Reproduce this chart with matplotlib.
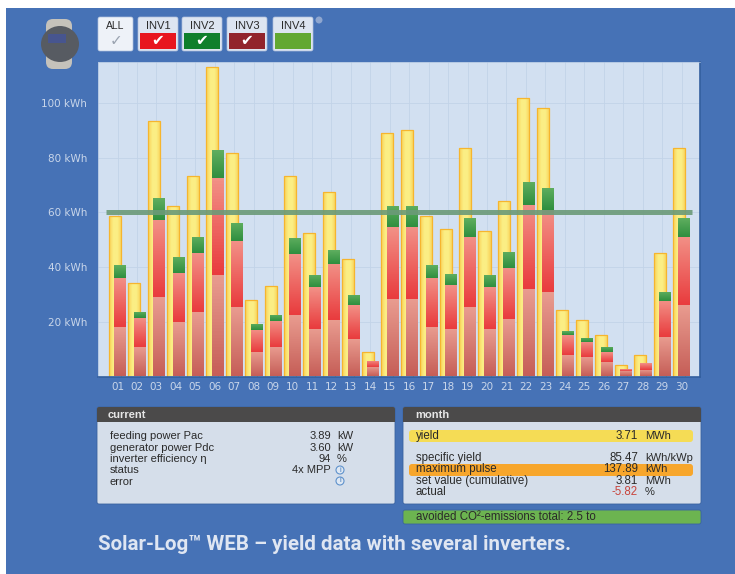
import numpy as np
import matplotlib
matplotlib.use("Agg")
import matplotlib.pyplot as plt
from matplotlib.patches import Rectangle, FancyBboxPatch, Ellipse, Circle
from matplotlib.colors import LinearSegmentedColormap

plt.rcParams['font.family'] = ['Liberation Sans', 'DejaVu Sans']

days = ["%02d" % d for d in range(1, 31)]
total_yield = [58.6, 34.2, 93.3, 62.3, 73.2, 113.1, 81.6, 27.9, 33.1, 73.2,
               52.4, 67.4, 42.9, 8.9, 88.9, 90.0, 58.6, 53.9, 83.5, 53.1,
               64.1, 101.7, 98.1, 24.3, 20.6, 15.2, 4.2, 7.9, 45.1, 83.5]
inv1_top = [18.1, 10.8, 29.0, 19.9, 23.6, 37.1, 25.4, 8.9, 10.8, 22.5,
            17.4, 20.6, 13.7, 3.5, 28.3, 28.3, 18.1, 17.4, 25.4, 17.4,
            21.0, 32.0, 30.9, 7.9, 7.1, 5.3, 2.0, 2.4, 14.4, 26.1]
inv2_top = [36.0, 21.4, 57.2, 37.8, 45.1, 72.5, 49.5, 17.0, 20.3, 44.7,
            32.7, 41.1, 26.1, 5.7, 54.6, 54.6, 36.0, 33.4, 51.0, 32.7,
            39.6, 62.6, 60.8, 15.2, 12.6, 8.9, 2.7, 4.9, 27.6, 51.0]
inv3_top = [40.7, 23.6, 65.2, 43.7, 51.0, 82.7, 56.1, 19.2, 22.5, 50.6,
            37.1, 46.2, 29.8, 5.7, 62.3, 62.3, 40.7, 37.4, 57.9, 37.1,
            45.5, 71.1, 68.9, 16.6, 14.1, 10.8, 2.7, 4.9, 30.9, 57.9]
target = 60
y_ticks = [20, 40, 60, 80, 100]
y_labels = ["20 kWh", "40 kWh", "60 kWh", "80 kWh", "100 kWh"]

current_rows = [("feeding power Pac", "3.89", "kW"),
                ("generator power Pdc", "3.60", "kW"),
                ("inverter efficiency η", "94", "%"),
                ("status", "4x MPP", ""),
                ("error", "", "")]
month_rows = [("yield", "3.71", "MWh", 436),
              ("specific yield", "85.47", "kWh/kWp", 458),
              ("maximum pulse", "137.89", "kWh", 469),
              ("set value (cumulative)", "3.81", "MWh", 481),
              ("actual", "-5.82", "%", 492)]
buttons = [("INV1", 138, "#e8161f"), ("INV2", 182, "#0f7f2c"),
           ("INV3", 227, "#92242c"), ("INV4", 273, "#62a832")]

W, H = 735, 574
BLUE = "#4672b6"
TXT = "#2a2a2a"
fig = plt.figure(figsize=(W / 100, H / 100), dpi=100, facecolor="white")

# pixel coordinate layer for everything around the chart
bg = fig.add_axes([0, 0, 1, 1])
bg.set_xlim(0, W)
bg.set_ylim(H, 0)
bg.axis("off")
bg.add_patch(Rectangle((6, 8), W - 6, H - 8, fc=BLUE, ec="none"))


def rbox(x0, y0, x1, y1, fc, r=2, ec="none", z=2, lw=0.8):
    bg.add_patch(FancyBboxPatch((x0 + r, y0 + r), x1 - x0 - 2 * r, y1 - y0 - 2 * r,
                                boxstyle="round,pad=%g,rounding_size=%g" % (r, r),
                                fc=fc, ec=ec, lw=lw, zorder=z))


# logger device
bg.add_patch(FancyBboxPatch((48, 21), 22, 46, boxstyle="round,pad=2,rounding_size=7",
                            fc="#c5c2bb", ec="none", zorder=2))
bg.add_patch(Ellipse((60, 44), 38, 36, fc="#575b62", ec="none", zorder=3))
bg.add_patch(Rectangle((48, 34), 18, 9, fc="#47558f", ec="none", zorder=4))

# inverter buttons
rbox(98, 17, 133, 51, "#eef2f8", ec="#aebfdc", lw=0.5)
bg.text(115.5, 26, "ALL", ha="center", va="center", fontsize=7.5, color=TXT, zorder=4)
bg.text(116, 41, "✓", ha="center", va="center", fontsize=11, color="#9aa3b0", zorder=4,
        family="DejaVu Sans")
for name, x0, col in buttons:
    rbox(x0, 17, x0 + 40, 51, "#dde5f1", ec="#aebfdc", lw=0.5)
    bg.add_patch(Rectangle((x0 + 2, 33), 36, 16, fc=col, ec="none", zorder=3))
    bg.text(x0 + 20, 26, name, ha="center", va="center", fontsize=8, color=TXT, zorder=4)
    if name != "INV4":
        bg.text(x0 + 20, 41, "✔", ha="center", va="center", fontsize=11, color="white",
                zorder=4, family="DejaVu Sans")
bg.add_patch(Circle((319, 20), 3.5, fc="#8ea6cf", ec="none", zorder=3))

# bottom panels
for x0, x1 in [(97, 395), (403, 701)]:
    rbox(x0, 407, x1, 504, "#d5deea", ec="#3a62a0", lw=0.6)
    rbox(x0, 407, x1, 422, "#4b4a4a")
    bg.add_patch(Rectangle((x0, 416), x1 - x0, 6, fc="#4b4a4a", ec="none", zorder=2))
bg.text(108, 415, "current", va="center", fontsize=8, weight="bold", color="#e6e6e6", zorder=4)
bg.text(415, 415, "month", va="center", fontsize=8, weight="bold", color="#e6e6e6", zorder=4)

for (label, val, unit), yp in zip(current_rows, [436, 448, 459, 470, 482]):
    bg.text(110, yp, label, va="center", fontsize=8, color=TXT, zorder=4)
    bg.text(331, yp, val, va="center", ha="right", fontsize=8, color=TXT, zorder=4)
    bg.text(337, yp, unit, va="center", fontsize=8, color=TXT, zorder=4)
for yp in [470, 481]:
    bg.add_patch(Circle((340, yp), 4, fc="#dfe8f3", ec="#5f92cc", lw=0.8, zorder=4))
    bg.text(340, yp, "i", ha="center", va="center", fontsize=5.5, color="#3f78bb", zorder=5)

rbox(409, 430, 693, 442, "#f5dc55", r=3)
rbox(409, 464, 693, 476, "#f7a62c", r=3)
rbox(403, 510, 701, 524, "#6cb450", ec="#3a62a0", lw=0.6)
for label, val, unit, yp in month_rows:
    bg.text(416, yp, label, va="center", fontsize=8.3, color=TXT, zorder=4)
    bg.text(638, yp, val, va="center", ha="right", fontsize=8.3, zorder=4,
            color="#c8443c" if val.startswith("-") else TXT)
    bg.text(645, yp, unit, va="center", fontsize=8, color=TXT, zorder=4)
bg.text(416, 517, "avoided CO²-emissions total: 2.5 to", va="center", fontsize=8.3,
        color=TXT, zorder=4)

bg.text(98, 545, "Solar-Log™ WEB – yield data with several inverters.", va="center",
        fontsize=14.8, weight="bold", color="#dfe6f2", zorder=4,
        family=["Roboto", "Liberation Sans"])

# chart area: x0 = 98 px, x1 = 700 px, y0 = 376.5 px, y1 = 62 px
ax = fig.add_axes([98 / W, 1 - 376.5 / H, 602 / W, 314.5 / H], facecolor="#d2e0f1")
x = np.arange(1, 31)
ax.set_autoscale_on(False)
ax.set_xlim(-0.003, 30.95)
ax.set_ylim(0, 314.5 / 2.7375)

yellow_cm = LinearSegmentedColormap.from_list("y", ["#f9d35a", "#fbee84", "#fbee84", "#f9d35a"])
base_cm = LinearSegmentedColormap.from_list("b", ["#e99c90", "#c65f58"])
red_cm = LinearSegmentedColormap.from_list("r", ["#f29086", "#e93c3e"])
green_cm = LinearSegmentedColormap.from_list("g", ["#5fae5f", "#2f8f3f"])
vert = np.linspace(0, 1, 32).reshape(-1, 1)
horiz = np.linspace(0, 1, 16).reshape(1, -1)


def grad_bars(xs, tops, bottoms, width, cmap, grad, z, edge=None):
    bars = ax.bar(xs, np.array(tops) - np.array(bottoms), width, bottom=bottoms, fc="none",
                  ec=edge if edge else "none", lw=0.9, zorder=z + 0.05)
    for b in bars:
        ex = (b.get_x(), b.get_x() + b.get_width(), b.get_y(), b.get_y() + b.get_height())
        im = ax.imshow(grad, cmap=cmap, extent=ex, aspect="auto", zorder=z, origin="upper")
        im.set_clip_path(b)


zeros = np.zeros(30)
grad_bars(x - 0.13, total_yield, zeros, 0.62, yellow_cm, horiz, 2, edge="#f6b52e")
grad_bars(x + 0.13, inv1_top, zeros, 0.58, base_cm, vert, 3)
grad_bars(x + 0.13, inv2_top, inv1_top, 0.58, red_cm, vert, 3.2)
grad_bars(x + 0.13, inv3_top, inv2_top, 0.58, green_cm, vert, 3.4)

ax.plot([0.41, 30.54], [target, target], color="#6b9a78", lw=3.6, alpha=0.9,
        solid_capstyle="butt", zorder=5)

ax.set_xticks(x, days, family="DejaVu Sans")
ax.set_yticks(y_ticks, y_labels, family="DejaVu Sans")
ax.tick_params(length=0, labelcolor="#c9d6ea", labelsize=7.5)
ax.tick_params(axis="y", pad=8)
ax.tick_params(axis="x", pad=4)
ax.grid(color="#c2d3e8", lw=0.6, zorder=1)
ax.set_axisbelow(True)
for side in ["top", "left"]:
    ax.spines[side].set_color("#a9bfde")
    ax.spines[side].set_linewidth(0.5)
for side in ["right", "bottom"]:
    ax.spines[side].set_color("#335f9f")
    ax.spines[side].set_linewidth(1.2)

fig.savefig("out.png", dpi=100)
